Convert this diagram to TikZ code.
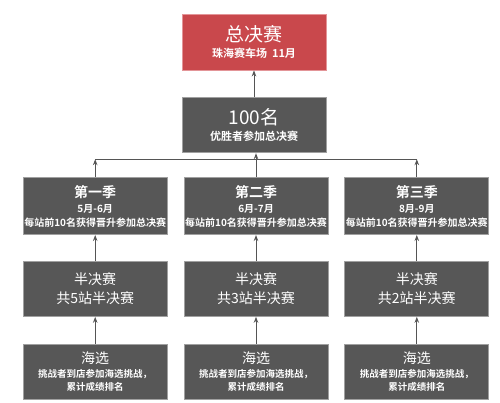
\documentclass[tikz,border=0pt]{standalone}
\usepackage{fontspec}
\setmainfont{Noto Sans CJK SC}[BoldFont={Noto Sans CJK SC Bold}]
\usepackage{xcolor}
\usepackage{tikz}
\usetikzlibrary{positioning, arrows.meta}
\definecolor{finalred}{HTML}{C9484C}
\definecolor{finalborder}{HTML}{E39598}
\definecolor{stagegray}{HTML}{575757}
\definecolor{stageborder}{HTML}{A0A0A0}
\definecolor{linkgray}{HTML}{555555}

\tikzset{
  stagebox/.style={fill=stagegray, draw=stageborder, line width=0.8pt, text=white,
    minimum width=144pt, minimum height=55pt, inner sep=0pt, align=center},
  finalbox/.style={stagebox, fill=finalred, draw=finalborder},
  uparrow/.style={draw=linkgray, line width=1pt, -{Stealth[length=6pt, width=4.5pt]}}
}

\begin{document}
\begin{tikzpicture}[node distance=26pt and 16pt]
    \useasboundingbox[fill=white] (0pt,0pt) rectangle (500pt,-402pt);
    % top of the tree
    \node[finalbox, minimum height=56pt] (final) at (254pt,-42pt) {%
      \fontsize{19}{19}\selectfont 总决赛\\[4pt]
      \fontsize{11}{11}\selectfont\bfseries 珠海赛车场\ \ 11月};
    \node[stagebox, below=27pt of final] (top100) {%
      \fontsize{19}{19}\selectfont 100名\\[4pt]
      \fontsize{11}{11}\selectfont\bfseries 优胜者参加总决赛};
    % seasons
    \node[stagebox, minimum height=57pt, below=24pt of top100, xshift=2pt] (season2) {%
      \fontsize{14}{14}\selectfont\bfseries 第二季\\[3pt]
      \fontsize{10}{10}\selectfont\bfseries 6月-7月\\[2pt]
      \fontsize{10}{10}\selectfont\bfseries 每站前10名获得晋升参加总决赛};
    \node[stagebox, minimum height=57pt, left=16pt of season2] (season1) {%
      \fontsize{14}{14}\selectfont\bfseries 第一季\\[3pt]
      \fontsize{10}{10}\selectfont\bfseries 5月-6月\\[2pt]
      \fontsize{10}{10}\selectfont\bfseries 每站前10名获得晋升参加总决赛};
    \node[stagebox, minimum height=57pt, right=16pt of season2] (season3) {%
      \fontsize{14}{14}\selectfont\bfseries 第三季\\[3pt]
      \fontsize{10}{10}\selectfont\bfseries 8月-9月\\[2pt]
      \fontsize{10}{10}\selectfont\bfseries 每站前10名获得晋升参加总决赛};
    % semi finals
    \node[stagebox, below=of season1] (semi1) {%
      \fontsize{14}{14}\selectfont 半决赛\\[5pt]
      \fontsize{14}{14}\selectfont 共5站半决赛};
    \node[stagebox, below=of season2] (semi2) {%
      \fontsize{14}{14}\selectfont 半决赛\\[5pt]
      \fontsize{14}{14}\selectfont 共3站半决赛};
    \node[stagebox, below=of season3] (semi3) {%
      \fontsize{14}{14}\selectfont 半决赛\\[5pt]
      \fontsize{14}{14}\selectfont 共2站半决赛};
    % open selection
    \node[stagebox, below=27pt of semi1] (sea1) {%
      \fontsize{14}{14}\selectfont 海选\\[2pt]
      \fontsize{9.5}{9.5}\selectfont\bfseries 挑战者到店参加海选挑战，\\[1.5pt]
      \fontsize{9.5}{9.5}\selectfont\bfseries 累计成绩排名};
    \node[stagebox, below=27pt of semi2] (sea2) {%
      \fontsize{14}{14}\selectfont 海选\\[2pt]
      \fontsize{9.5}{9.5}\selectfont\bfseries 挑战者到店参加海选挑战，\\[1.5pt]
      \fontsize{9.5}{9.5}\selectfont\bfseries 累计成绩排名};
    \node[stagebox, below=27pt of semi3] (sea3) {%
      \fontsize{14}{14}\selectfont 海选\\[2pt]
      \fontsize{9.5}{9.5}\selectfont\bfseries 挑战者到店参加海选挑战，\\[1.5pt]
      \fontsize{9.5}{9.5}\selectfont\bfseries 累计成绩排名};
    % connectors
    \coordinate[below=6pt of top100] (bus);
    \draw[uparrow] (top100.north) -- (final.south);
    \draw[draw=linkgray, line width=1pt] (season1.north |- bus) -- (season3.north |- bus);
    \draw[uparrow] (season1.north) -- (season1.north |- bus);
    \draw[uparrow] (season2.north) -- (season2.north |- top100.south);
    \draw[uparrow] (season3.north) -- (season3.north |- bus);
    \foreach \col in {1,2,3} {
      \draw[uparrow] (semi\col.north) -- (season\col.south);
      \draw[uparrow] (sea\col.north) -- (semi\col.south);
    }
\end{tikzpicture}
\end{document}
